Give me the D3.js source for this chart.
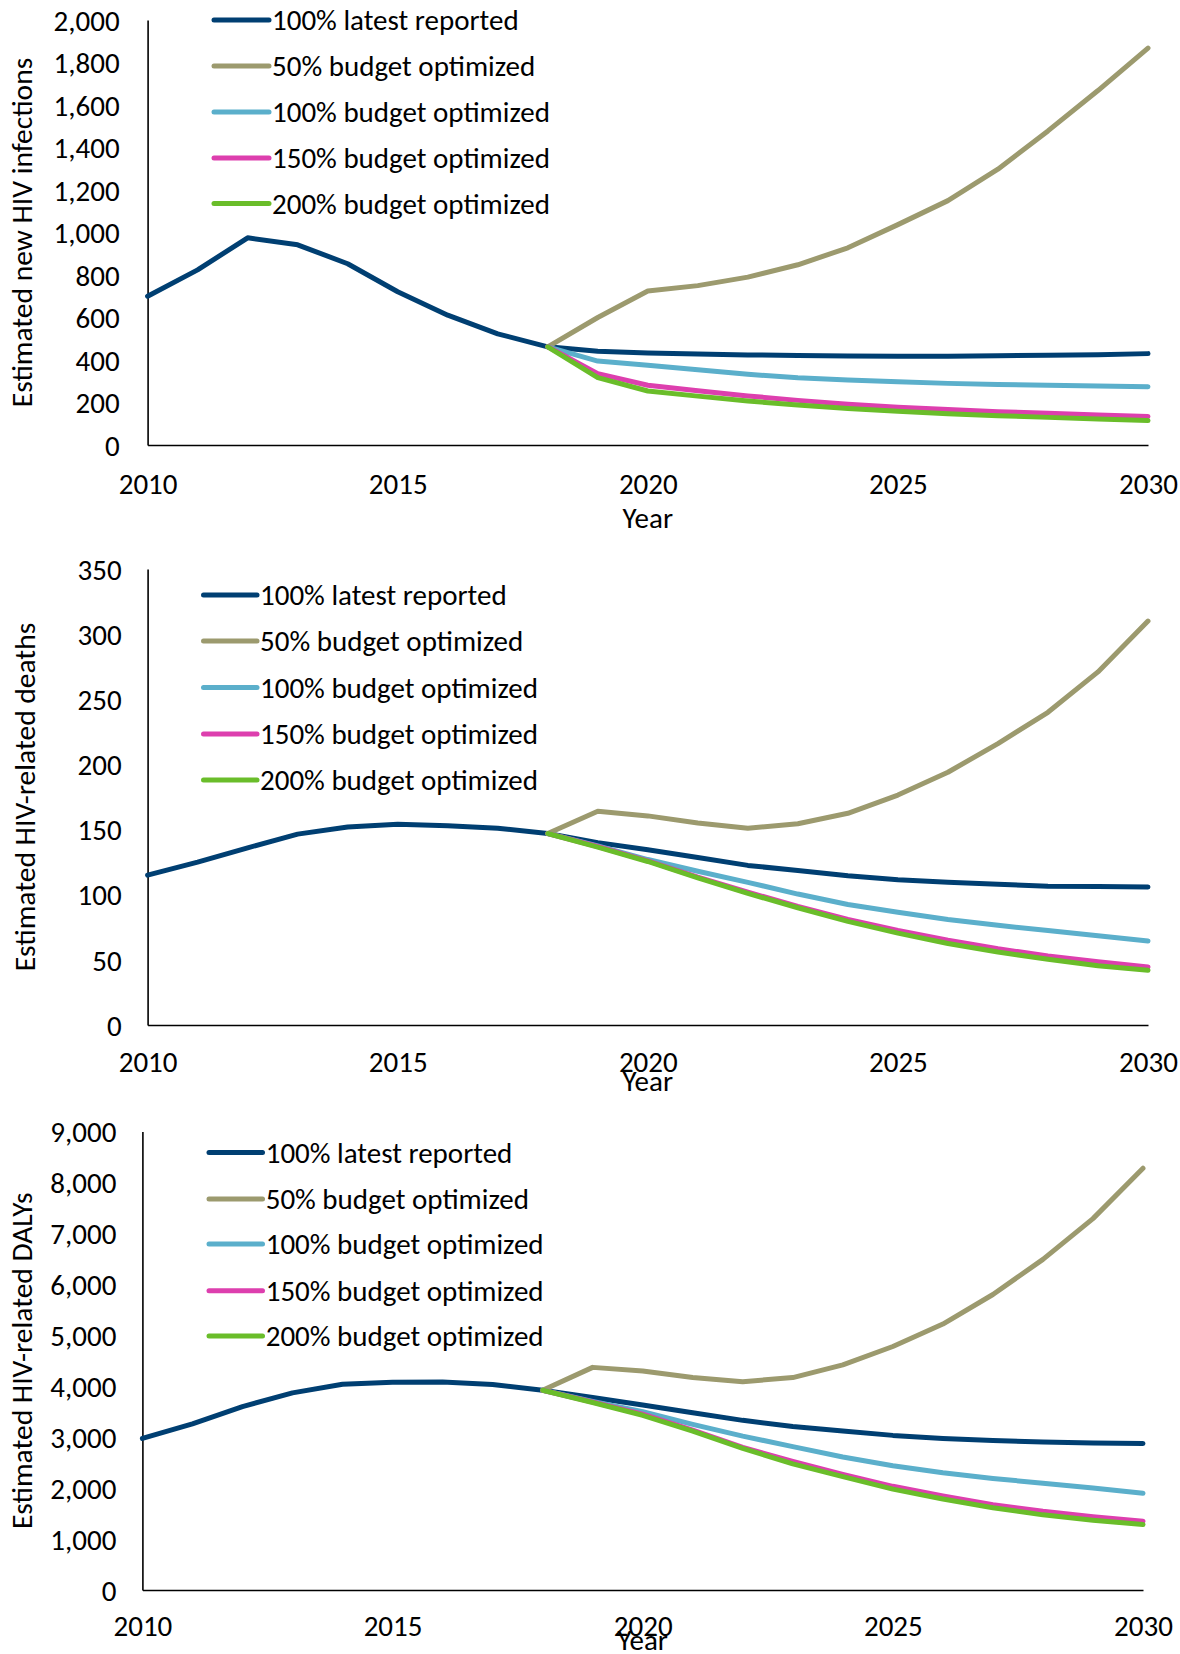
<!DOCTYPE html>
<html>
<head>
<meta charset="utf-8">
<script src="https://cdn.jsdelivr.net/npm/d3@7"></script>
<style>
  html, body { margin: 0; padding: 0; background: #fff; }
  svg { display: block; }
  text { font-family: Carlito, Calibri, Lato, sans-serif; fill: #000; }
</style>
</head>
<body>
<svg id="chart" width="1180" height="1654"></svg>
<script>
// ---------------- DATA ----------------
const years = [2010,2011,2012,2013,2014,2015,2016,2017,2018,2019,2020,2021,2022,2023,2024,2025,2026,2027,2028,2029,2030];
const projYears = [2018,2019,2020,2021,2022,2023,2024,2025,2026,2027,2028,2029,2030];
const xTickYears = [2010, 2015, 2020, 2025, 2030];
const seriesNames = ["100% latest reported", "50% budget optimized", "100% budget optimized", "150% budget optimized", "200% budget optimized"];
const seriesColors = ["#003F72", "#9C9A6E", "#5BAFCB", "#DD3FAE", "#6ABD2A"];

// Chart 1: Estimated new HIV infections
const infLatest = [700, 824, 975, 942, 853, 721, 611, 523, 462, 441, 433, 428, 424, 421, 419, 418, 418, 420, 422, 425, 430];
const infB50  = [462, 600, 725, 750, 790, 848, 928, 1037, 1150, 1298, 1478, 1668, 1868];
const infB100 = [462, 395, 375, 354, 333, 316, 306, 298, 290, 285, 281, 278, 274];
const infB150 = [462, 336, 281, 255, 231, 210, 192, 178, 167, 157, 149, 141, 134];
const infB200 = [462, 317, 254, 230, 207, 188, 172, 159, 147, 138, 130, 122, 115];
const infTicks = [0, 200, 400, 600, 800, 1000, 1200, 1400, 1600, 1800, 2000];

// Chart 2: Estimated HIV-related deaths
const deathLatest = [115, 125, 136, 146.5, 152, 154, 153, 151, 147, 140, 134.5, 128.5, 122.5, 118.5, 114.5, 111.5, 109.5, 108, 106.5, 106.3, 106];
const deathB50  = [147, 164, 160.5, 155, 151, 154.5, 162.5, 176.5, 194, 216, 240, 271, 310];
const deathB100 = [147, 137.5, 127, 118, 109.5, 100.5, 92.5, 86.5, 81, 76.5, 72.5, 68.5, 64.5];
const deathB150 = [147, 137, 126, 113.5, 102, 91, 81, 72.5, 65, 58.5, 53, 48.5, 44.5];
const deathB200 = [147, 136.5, 125.5, 113, 101, 90, 79.5, 70.5, 62.5, 56, 50.5, 45.5, 42];
const deathTicks = [0, 50, 100, 150, 200, 250, 300, 350];

// Chart 3: Estimated HIV-related DALYs
const dalyLatest = [2975, 3260, 3600, 3870, 4040, 4080, 4085, 4035, 3920, 3780, 3630, 3480, 3330, 3210, 3120, 3035, 2975, 2935, 2905, 2885, 2875];
const dalyB50  = [3920, 4370, 4300, 4170, 4090, 4170, 4420, 4780, 5220, 5800, 6490, 7290, 8280];
const dalyB100 = [3920, 3700, 3500, 3250, 3020, 2815, 2610, 2440, 2300, 2190, 2095, 2000, 1900];
const dalyB150 = [3920, 3690, 3450, 3140, 2800, 2525, 2270, 2035, 1845, 1675, 1545, 1440, 1350];
const dalyB200 = [3920, 3680, 3430, 3120, 2780, 2475, 2225, 1980, 1785, 1615, 1475, 1370, 1285];
const dalyTicks = [0, 1000, 2000, 3000, 4000, 5000, 6000, 7000, 8000, 9000];

const yTitles = ["Estimated new HIV infections", "Estimated HIV-related deaths", "Estimated HIV-related DALYs"];
const xTitle = "Year";

// ---------------- LAYOUT ----------------
const panels = [
  { latest: infLatest, proj: [infB50, infB100, infB150, infB200], ticks: infTicks, fmt: d3.format(","),
    left: 147.6, right: 1148, top: 20, bottom: 445, labPad: 28, xLabOff: 39, yearOff: 73,
    titleX: 32, legLine: [214, 269], legText: 272, legRows: [20, 66, 112, 158, 203.5], title: yTitles[0] },
  { latest: deathLatest, proj: [deathB50, deathB100, deathB150, deathB200], ticks: deathTicks, fmt: d3.format("d"),
    left: 147.6, right: 1148, top: 569, bottom: 1025, labPad: 26, xLabOff: 37, yearOff: 56,
    titleX: 35, legLine: [203.5, 257], legText: 260, legRows: [595, 641, 687.5, 734, 780], title: yTitles[1] },
  { latest: dalyLatest, proj: [dalyB50, dalyB100, dalyB150, dalyB200], ticks: dalyTicks, fmt: d3.format(","),
    left: 142.4, right: 1143, top: 1131.5, bottom: 1590, labPad: 26, xLabOff: 36, yearOff: 50,
    titleX: 32, legLine: [209, 262.5], legText: 265.7, legRows: [1152.5, 1199, 1244, 1290.7, 1336], title: yTitles[2] }
];

const FS = 29;
const TFS = 29.5;
const LW = 5;
const svg = d3.select("#chart");

panels.forEach(p => {
  const g = svg.append("g");
  const x = d3.scaleLinear().domain([years[0], years[years.length - 1]]).range([p.left, p.right]);
  const y = d3.scaleLinear().domain([p.ticks[0], p.ticks[p.ticks.length - 1]]).range([p.bottom, p.top]);

  // Y axis
  const ya = g.append("g").attr("transform", `translate(${p.left},0)`)
    .call(d3.axisLeft(y).tickValues(p.ticks).tickFormat(p.fmt).tickSize(0).tickPadding(p.labPad));
  ya.select(".domain").attr("stroke", "#000").attr("stroke-width", 1.6);
  ya.selectAll("text").attr("font-size", FS).attr("font-family", null).attr("dy", "0.35em");

  // X axis
  const xa = g.append("g").attr("transform", `translate(0,${p.bottom})`)
    .call(d3.axisBottom(x).tickValues(xTickYears).tickFormat(d3.format("d")).tickSize(0));
  xa.select(".domain").attr("stroke", "#000").attr("stroke-width", 1.6);
  xa.selectAll("text").attr("font-size", FS).attr("font-family", null).attr("y", p.xLabOff).attr("dy", "0.35em");

  // X title
  g.append("text").attr("x", (p.left + p.right) / 2).attr("y", p.bottom + p.yearOff).attr("dy", "0.35em")
    .attr("text-anchor", "middle").attr("font-size", FS).text(xTitle);

  // Y title
  g.append("text").attr("transform", `translate(${p.titleX},${(p.top + p.bottom) / 2}) rotate(-90)`)
    .attr("text-anchor", "middle").attr("font-size", TFS).text(p.title);

  // Lines
  const line = d3.line().x(d => x(d[0])).y(d => y(d[1]));
  const allSeries = [years.map((yr, i) => [yr, p.latest[i]])]
    .concat(p.proj.map(arr => projYears.map((yr, i) => [yr, arr[i]])));
  allSeries.forEach((s, i) => {
    g.append("path").datum(s).attr("d", line).attr("fill", "none")
      .attr("stroke", seriesColors[i]).attr("stroke-width", LW)
      .attr("stroke-linecap", "round").attr("stroke-linejoin", "round");
  });

  // Legend
  seriesNames.forEach((name, i) => {
    const yy = p.legRows[i];
    g.append("line").attr("x1", p.legLine[0]).attr("x2", p.legLine[1]).attr("y1", yy).attr("y2", yy)
      .attr("stroke", seriesColors[i]).attr("stroke-width", LW).attr("stroke-linecap", "round");
    g.append("text").attr("x", p.legText).attr("y", yy).attr("dy", "0.35em")
      .attr("font-size", FS).text(name);
  });
});
</script>
</body>
</html>
